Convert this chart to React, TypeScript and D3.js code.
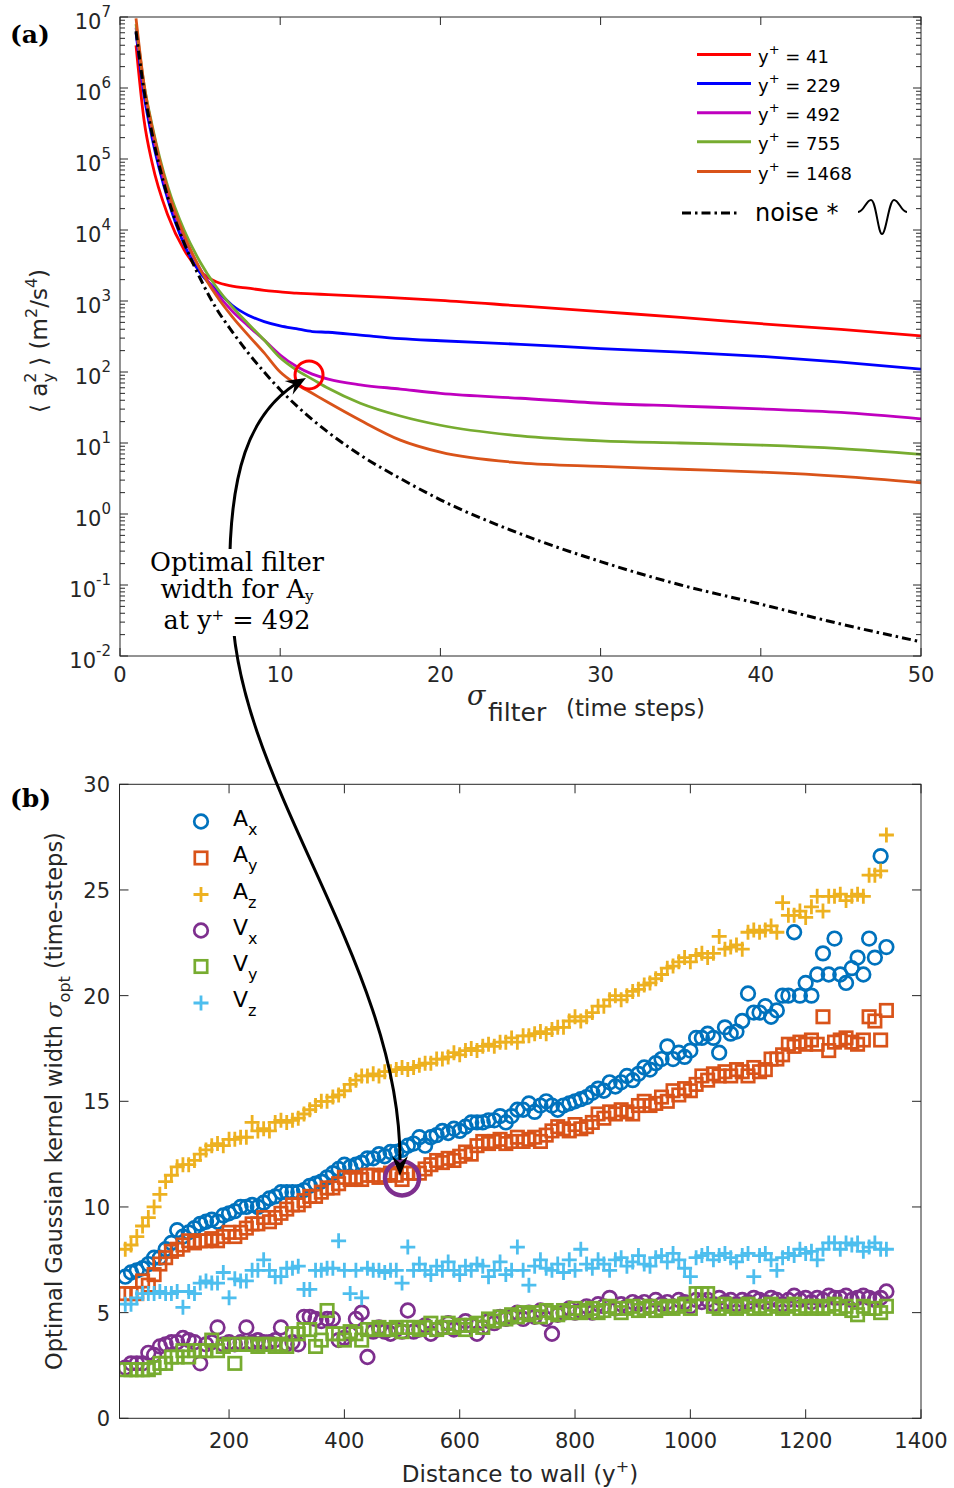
import React from "react";
import * as d3 from "d3";

// ---------------- Panel (a) data: log10(<a_y^2>) vs sigma_filter ----------------
const sigmaGrid = [1, 1.5, 2, 3, 4, 5, 6, 7, 8, 9, 10, 11, 12, 13, 15, 17.5, 20, 25, 30, 35, 40, 45, 50];
const logY41 = [6.6, 5.55, 4.95, 4.2, 3.72, 3.42, 3.27, 3.21, 3.18, 3.15, 3.13, 3.11, 3.1, 3.09, 3.07, 3.04, 3.01, 2.93, 2.85, 2.77, 2.68, 2.6, 2.51];
const logY229 = [6.78, 5.9, 5.3, 4.42, 3.8, 3.4, 3.16, 2.94, 2.8, 2.71, 2.65, 2.61, 2.57, 2.56, 2.52, 2.47, 2.44, 2.39, 2.33, 2.28, 2.22, 2.14, 2.04];
const logY492 = [6.85, 6.0, 5.4, 4.5, 3.9, 3.45, 3.12, 2.86, 2.65, 2.45, 2.24, 2.08, 1.97, 1.9, 1.82, 1.76, 1.7, 1.63, 1.56, 1.52, 1.48, 1.43, 1.34];
const logY755 = [6.9, 6.05, 5.48, 4.6, 4.0, 3.55, 3.2, 2.92, 2.68, 2.45, 2.2, 2.03, 1.9, 1.77, 1.56, 1.38, 1.25, 1.1, 1.03, 1.0, 0.97, 0.92, 0.84];
const logY1468 = [6.98, 6.05, 5.45, 4.55, 3.93, 3.45, 3.08, 2.78, 2.52, 2.27, 2.0, 1.83, 1.7, 1.57, 1.32, 1.04, 0.87, 0.72, 0.67, 0.63, 0.59, 0.53, 0.44];
const logNoise = [6.8, 5.97, 5.36, 4.45, 3.82, 3.32, 2.9, 2.57, 2.27, 2.0, 1.75, 1.53, 1.33, 1.15, 0.83, 0.5, 0.2, -0.28, -0.67, -1.0, -1.27, -1.55, -1.8];

const legendA = ["41", "229", "492", "755", "1468"];
const colorsA = ["#ff0000", "#0000ff", "#bf00bf", "#77ac30", "#d95319"];
const xTicksA = [0, 10, 20, 30, 40, 50];
const yExpA = [-2, -1, 0, 1, 2, 3, 4, 5, 6, 7];

// ---------------- Panel (b) data: optimal kernel width vs y+ ----------------
const yPlus = [
  20, 30, 40, 50, 60, 70, 80, 90, 100, 110,
  120, 130, 140, 150, 160, 170, 180, 190, 200, 210,
  220, 230, 240, 250, 260, 270, 280, 290, 300, 310,
  320, 330, 340, 350, 360, 370, 380, 390, 400, 410,
  420, 430, 440, 450, 460, 470, 480, 490, 500, 510,
  520, 530, 540, 550, 560, 570, 580, 590, 600, 610,
  620, 630, 640, 650, 660, 670, 680, 690, 700, 710,
  720, 730, 740, 750, 760, 770, 780, 790, 800, 810,
  820, 830, 840, 850, 860, 870, 880, 890, 900, 910,
  920, 930, 940, 950, 960, 970, 980, 990, 1000, 1010,
  1020, 1030, 1040, 1050, 1060, 1070, 1080, 1090, 1100, 1110,
  1120, 1130, 1140, 1150, 1160, 1170, 1180, 1190, 1200, 1210,
  1220, 1230, 1240, 1250, 1260, 1270, 1280, 1290, 1300, 1310,
  1320, 1330, 1340,
];
const Ax = [
  6.7, 6.9, 7.0, 7.1, 7.3, 7.6, 7.6, 8.0, 8.3, 8.9,
  8.6, 8.8, 9.0, 9.2, 9.3, 9.4, 9.3, 9.6, 9.7, 9.8,
  10.0, 10.0, 10.1, 10.0, 10.2, 10.4, 10.5, 10.7, 10.7, 10.7,
  10.7, 10.8, 11.0, 11.1, 11.2, 11.4, 11.6, 11.8, 12.0, 11.9,
  12.0, 12.1, 12.3, 12.3, 12.5, 12.4, 12.6, 12.6, 12.7, 12.9,
  13.0, 13.3, 12.9, 13.3, 13.4, 13.6, 13.5, 13.7, 13.6, 13.8,
  14.0, 14.0, 14.0, 14.1, 14.1, 14.3, 14.0, 14.3, 14.6, 14.6,
  14.9, 14.5, 14.8, 15.0, 14.8, 14.6, 14.8, 14.9, 15.0, 15.1,
  15.2, 15.4, 15.6, 15.5, 15.9, 15.7, 15.9, 16.2, 16.0, 16.3,
  16.6, 16.5, 16.8, 17.0, 17.6, 17.0, 17.3, 17.1, 17.4, 18.0,
  18.0, 18.2, 18.0, 17.3, 18.5, 18.2, 18.3, 18.8, 20.1, 19.2,
  19.2, 19.5, 19.0, 19.3, 20.0, 20.0, 23.0, 20.0, 20.6, 20.0,
  21.0, 22.0, 21.0, 22.7, 21.0, 20.6, 21.3, 21.8, 21.0, 22.7,
  21.8, 26.6, 22.3,
];
const Ay = [
  5.9, 5.9, 5.9, 6.5, 6.3, 6.8, 7.3, 7.6, 7.9, 8.0,
  8.2, 8.4, 8.3, 8.4, 8.4, 8.5, 8.4, 8.6, 8.8, 8.6,
  8.8, 9.0, 9.2, 9.2, 9.5, 9.3, 9.5, 9.7, 9.9, 10.1,
  10.1, 10.3, 10.5, 10.5, 10.7, 10.9, 10.9, 11.1, 11.4, 11.3,
  11.4, 11.3, 11.5, 11.5, 11.4, 11.5, 11.6, 11.5, 11.3, 11.6,
  11.6, 11.6, 11.8, 12.0, 12.2, 12.1, 12.3, 12.2, 12.4, 12.6,
  12.5, 12.9, 13.1, 13.0, 13.1, 13.2, 13.0, 13.1, 13.3, 13.1,
  13.2, 13.3, 13.1, 13.4, 13.6, 13.8, 13.7, 13.6, 13.9, 13.7,
  13.8, 14.0, 14.4, 14.2, 14.5, 14.4, 14.6, 14.5, 14.4, 14.8,
  15.0, 14.8, 14.9, 15.2, 15.0, 15.5, 15.3, 15.6, 15.5, 15.8,
  16.2, 16.0, 16.3, 16.2, 16.4, 16.2, 16.5, 16.4, 16.2, 16.6,
  16.4, 16.5, 17.0, 17.0, 17.2, 17.7, 17.6, 17.8, 17.7, 17.9,
  17.7, 19.0, 17.4, 17.8, 17.9, 18.0, 17.8, 17.7, 17.9, 19.0,
  18.8, 17.9, 19.3,
];
const Az = [
  8.0, 8.2, 8.6, 9.1, 9.5, 10.0, 10.6, 11.2, 11.5, 11.9,
  12.0, 12.0, 12.2, 12.5, 12.7, 12.9, 13.0, 12.9, 13.2, 13.2,
  13.3, 13.3, 14.0, 13.6, 13.7, 13.6, 14.0, 14.1, 14.0, 14.1,
  14.2, 14.4, 14.6, 14.8, 15.0, 15.0, 15.2, 15.3, 15.5, 15.8,
  16.0, 16.2, 16.2, 16.3, 16.2, 16.4, 16.4, 16.5, 16.6, 16.5,
  16.6, 16.7, 16.8, 16.8, 17.0, 17.0, 17.1, 17.3, 17.2, 17.4,
  17.5, 17.4, 17.6, 17.7, 17.6, 17.8, 17.8, 18.0, 17.8, 18.1,
  18.1, 18.2, 18.3, 18.2, 18.4, 18.5, 18.5, 18.8, 19.0, 18.8,
  19.0, 19.2, 19.5, 19.5, 19.8, 20.0, 19.8, 20.0, 20.2, 20.3,
  20.5, 20.6, 20.8, 21.0, 21.3, 21.4, 21.6, 21.8, 21.6, 21.9,
  22.0, 21.8, 22.0, 22.8, 22.2, 22.3, 22.4, 22.2, 23.0, 23.1,
  23.0, 23.1, 23.3, 23.0, 24.4, 23.8, 23.8, 24.0, 23.7, 24.2,
  24.7, 24.0, 24.7, 24.7, 24.8, 24.5, 24.7, 24.8, 24.7, 25.7,
  25.7, 25.9, 27.6,
];
const Vx = [
  2.4, 2.6, 2.6, 2.6, 3.1, 3.0, 3.4, 3.5, 3.6, 3.6,
  3.8, 3.7, 3.6, 2.6, 3.5, 3.6, 4.3, 3.5, 3.6, 3.5,
  3.6, 4.3, 3.6, 3.7, 3.6, 3.6, 3.7, 4.3, 3.5, 3.6,
  3.5, 4.8, 4.8, 4.7, 4.6, 4.7, 4.7, 3.7, 3.8, 4.0,
  4.7, 5.0, 2.9, 4.1, 4.3, 4.1, 4.0, 4.2, 4.1, 5.1,
  4.1, 4.2, 4.4, 4.0, 4.2, 4.3, 4.5, 4.2, 4.4, 4.6,
  4.4, 4.0, 4.3, 4.6, 4.5, 4.8, 4.7, 4.8, 5.0, 4.7,
  5.0, 4.8, 5.1, 4.7, 4.0, 4.9, 5.0, 5.2, 5.0, 5.1,
  5.3, 5.0, 5.4, 5.3, 5.7, 5.2, 5.4, 5.3, 5.5, 5.4,
  5.5, 5.3, 5.6, 5.4, 5.5, 5.3, 5.6, 5.5, 5.3, 5.6,
  5.5, 5.6, 5.4, 5.7, 5.5, 5.6, 5.4, 5.6, 5.5, 5.7,
  5.6, 5.5, 5.7, 5.6, 5.4, 5.6, 5.8, 5.6, 5.7, 5.5,
  5.7, 5.6, 5.8, 5.7, 5.7, 5.8, 5.6, 5.7, 5.8, 5.7,
  5.6, 5.7, 6.0,
];
const Vy = [
  2.3, 2.3, 2.3, 2.3, 2.3, 2.4, 2.6, 2.6, 2.9, 2.9,
  3.2, 2.9, 3.2, 3.2, 3.2, 3.7, 3.2, 3.4, 3.5, 2.6,
  3.5, 3.5, 3.5, 3.4, 3.5, 3.5, 3.4, 3.5, 3.4, 4.0,
  4.0, 4.2, 4.2, 3.4, 3.7, 5.1, 4.0, 4.0, 3.7, 4.1,
  4.0, 3.7, 4.2, 4.2, 4.3, 4.2, 4.2, 4.3, 4.1, 4.3,
  4.3, 4.2, 4.3, 4.5, 4.2, 4.3, 4.5, 4.3, 4.4, 4.2,
  4.4, 4.5, 4.3, 4.7, 4.6, 4.8, 4.7, 4.9, 4.8, 5.0,
  4.9, 5.0, 4.8, 5.1, 5.0, 4.9, 5.1, 5.0, 5.2, 5.0,
  5.1, 5.2, 5.0, 5.1, 5.3, 5.2, 5.0, 5.2, 5.3, 5.1,
  5.2, 5.3, 5.1, 5.2, 5.3, 5.2, 5.3, 5.4, 5.2, 5.9,
  5.9, 5.9, 5.3, 5.2, 5.4, 5.3, 5.2, 5.3, 5.4, 5.2,
  5.3, 5.2, 5.4, 5.3, 5.2, 5.3, 5.4, 5.2, 5.3, 5.2,
  5.3, 5.2, 5.3, 5.4, 5.2, 5.3, 5.1, 4.9, 5.3, 5.2,
  5.2, 5.0, 5.3,
];
const Vz = [
  5.4, 5.4, 5.7, 5.9, 5.9, 5.9, 6.0, 5.9, 5.9, 6.0,
  5.25, 6.0, 5.9, 6.4, 6.5, 6.4, 6.4, 6.9, 5.7, 6.6,
  6.5, 6.5, 7.0, 7.0, 7.5, 7.0, 6.7, 6.7, 7.1, 7.1,
  7.2, 6.1, 6.1, 7.0, 7.0, 7.1, 7.1, 8.4, 7.0, 5.9,
  7.0, 5.7, 7.1, 7.0, 7.0, 6.9, 7.0, 7.0, 6.4, 8.1,
  7.0, 7.3, 7.0, 6.8, 7.2, 7.0, 7.4, 7.0, 6.8, 7.2,
  7.0, 7.3, 7.2, 6.7, 7.0, 7.4, 6.8, 7.0, 8.1, 7.0,
  6.3, 7.2, 7.5, 7.1, 7.0, 7.3, 6.9, 7.5, 7.0, 8.0,
  7.3, 7.1, 7.5, 7.3, 7.0, 7.5, 7.6, 7.2, 7.4, 7.7,
  7.3, 7.2, 7.6, 7.7, 7.4, 7.8, 7.5, 7.1, 6.7, 7.6,
  7.7, 7.8, 7.5, 7.7, 7.8, 7.6, 7.4, 7.7, 7.8, 6.7,
  7.7, 7.8, 7.5, 7.0, 7.6, 7.8, 7.7, 8.0, 7.8, 7.9,
  7.5, 8.0, 8.3, 8.3, 8.0, 8.3, 8.2, 8.3, 7.9, 8.1,
  8.3, 8.0, 8.0,
];
const xTicksB = [200, 400, 600, 800, 1000, 1200, 1400];
const yTicksB = [0, 5, 10, 15, 20, 25, 30];

const seriesB = [
  { name: "A", sub: "x", values: Ax, color: "#0072bd", marker: "o" },
  { name: "A", sub: "y", values: Ay, color: "#d95319", marker: "s" },
  { name: "A", sub: "z", values: Az, color: "#edb120", marker: "+" },
  { name: "V", sub: "x", values: Vx, color: "#7e2f8e", marker: "o" },
  { name: "V", sub: "y", values: Vy, color: "#77ac30", marker: "s" },
  { name: "V", sub: "z", values: Vz, color: "#4dbeee", marker: "+" },
];

const AX = "#262626";
const SANS = "DejaVu Sans, sans-serif";
const SERIF = "DejaVu Serif, serif";

function Marker({ kind, x, y, color }: { kind: string; x: number; y: number; color: string }) {
  if (kind === "o") return <circle cx={x} cy={y} r={6.8} fill="none" stroke={color} strokeWidth={2.7} />;
  if (kind === "s") return <rect x={x - 6.2} y={y - 6.2} width={12.4} height={12.4} fill="none" stroke={color} strokeWidth={2.7} />;
  return <path d={`M${x - 7.5},${y}H${x + 7.5}M${x},${y - 7.5}V${y + 7.5}`} stroke={color} strokeWidth={2.8} fill="none" />;
}

function arrowHead(tx: number, ty: number, dx: number, dy: number) {
  const L = Math.hypot(dx, dy);
  const ux = dx / L, uy = dy / L;
  const px = -uy, py = ux;
  const len = 20, hw = 8, notch = 13;
  const bx = tx - ux * len, by = ty - uy * len;
  const nx = tx - ux * notch, ny = ty - uy * notch;
  return `M${tx},${ty}L${bx + px * hw},${by + py * hw}L${nx},${ny}L${bx - px * hw},${by - py * hw}Z`;
}

export default function App() {
  const W = 954, H = 1488;
  const xa = d3.scaleLinear().domain([0, 50]).range([120, 921]);
  const ya = d3.scaleLog().domain([1e-2, 1e7]).range([656, 17]);
  const xb = d3.scaleLinear().domain([10, 1400]).range([119.5, 921]);
  const yb = d3.scaleLinear().domain([0, 30]).range([1418.3, 784.3]);

  const lineA = d3
    .line<[number, number]>()
    .x((d) => xa(d[0]))
    .y((d) => ya(Math.pow(10, d[1])))
    .curve(d3.curveMonotoneX);

  const curvesA = [logY41, logY229, logY492, logY755, logY1468];
  const toPts = (arr: number[]) => sigmaGrid.map((s, i) => [s, arr[i]] as [number, number]);

  const aL = 120, aR = 921, aT = 17, aB = 656;
  const bL = 119.5, bR = 921, bT = 784.3, bB = 1418.3;

  const minorA: number[] = [];
  for (let e = -2; e < 7; e++) for (let m = 2; m <= 9; m++) minorA.push(m * Math.pow(10, e));

  const legendRowsA = [54.5, 83.5, 112.7, 141.7, 171.5];
  const legendRowsB = [821.5, 858, 894.5, 930.5, 966.5, 1003];

  const upper = "M230,600 C226,470 250,410 302,380";
  const lower = "M232,600 C232,780 400,960 400,1160";

  return (
    <div style={{ position: "absolute", left: 0, top: 0 }}>
      <svg width={W} height={H} viewBox={`0 0 ${W} ${H}`} style={{ display: "block", background: "#fff" }}>
        <rect x={0} y={0} width={W} height={H} fill="#fff" />
        <defs>
          <clipPath id="clipA">
            <rect x={aL} y={aT} width={aR - aL} height={aB - aT} />
          </clipPath>
          <clipPath id="clipB">
            <rect x={bL} y={bT} width={bR - bL} height={bB - bT} />
          </clipPath>
        </defs>

        {/* ================= PANEL (a) ================= */}
        <g clipPath="url(#clipA)">
          {curvesA.map((c, i) => (
            <path key={i} d={lineA(toPts(c)) || ""} fill="none" stroke={colorsA[i]} strokeWidth={2.8} strokeLinejoin="round" />
          ))}
          <path d={lineA(toPts(logNoise)) || ""} fill="none" stroke="#000" strokeWidth={3} strokeDasharray="9,4,2.5,4" />
        </g>
        <rect x={aL} y={aT} width={aR - aL} height={aB - aT} fill="none" stroke={AX} strokeWidth={1} />
        {xTicksA.map((t) => (
          <g key={"xa" + t}>
            <line x1={xa(t)} x2={xa(t)} y1={aB} y2={aB - 8} stroke={AX} />
            <line x1={xa(t)} x2={xa(t)} y1={aT} y2={aT + 8} stroke={AX} />
            <text x={xa(t)} y={682} textAnchor="middle" fontFamily={SANS} fontSize={21} fill={AX}>
              {t}
            </text>
          </g>
        ))}
        {yExpA.map((e) => {
          const y = ya(Math.pow(10, e));
          return (
            <g key={"ya" + e}>
              <line x1={aL} x2={aL + 8} y1={y} y2={y} stroke={AX} />
              <line x1={aR} x2={aR - 8} y1={y} y2={y} stroke={AX} />
              <text x={111} y={y + 12} textAnchor="end" fontFamily={SANS} fontSize={21} fill={AX}>
                <tspan>10</tspan>
                <tspan fontSize={15} dy={-12}>
                  {e}
                </tspan>
              </text>
            </g>
          );
        })}
        {minorA.map((v, i) => {
          const y = ya(v);
          return (
            <g key={"ma" + i}>
              <line x1={aL} x2={aL + 5} y1={y} y2={y} stroke={AX} />
              <line x1={aR} x2={aR - 5} y1={y} y2={y} stroke={AX} />
            </g>
          );
        })}
        <text transform="translate(47,341) rotate(-90)" textAnchor="middle" fontFamily={SANS} fontSize={23} fill={AX}>
          <tspan>⟨ a</tspan>
          <tspan fontSize={16} dy={-11}>2</tspan>
          <tspan fontSize={16} dx={-10} dy={18}>y</tspan>
          <tspan dy={-7}> ⟩ (m</tspan>
          <tspan fontSize={16} dy={-10}>2</tspan>
          <tspan dy={10}>/s</tspan>
          <tspan fontSize={16} dy={-10}>4</tspan>
          <tspan dy={10}>)</tspan>
        </text>
        <text x={467} y={705} fontFamily={SERIF} fontStyle="italic" fontSize={27} fill={AX}>σ</text>
        <text x={488} y={721} fontFamily={SANS} fontSize={25} fill={AX}>filter</text>
        <text x={566} y={716} fontFamily={SANS} fontSize={23} fill={AX}>(time steps)</text>
        {legendA.map((l, i) => (
          <g key={"la" + i}>
            <line x1={697} x2={751} y1={legendRowsA[i]} y2={legendRowsA[i]} stroke={colorsA[i]} strokeWidth={3} />
            <text x={758} y={legendRowsA[i] + 8} fontFamily={SANS} fontSize={18} fill="#000">
              <tspan>y</tspan>
              <tspan fontSize={13} dy={-9}>+</tspan>
              <tspan dy={9}>{" = " + l}</tspan>
            </text>
          </g>
        ))}
        <line x1={682} x2={737} y1={213} y2={213} stroke="#000" strokeWidth={3} strokeDasharray="9,4,2.5,4" />
        <text x={755} y={221} fontFamily={SANS} fontSize={24} fill="#000">noise *</text>
        <path
          d="M858,212 C864,212 866,200 871,200 C876,200 878,234 882,234 C886,234 889,200 894,200 C899,200 901,212 907,212"
          fill="none"
          stroke="#000"
          strokeWidth={2}
        />
        <circle cx={xa(11.8)} cy={ya(91)} r={14} fill="none" stroke="#ff0000" strokeWidth={3} />
        <text x={10} y={43} fontFamily={SERIF} fontWeight="bold" fontSize={25} fill="#000">(a)</text>

        {/* ================= PANEL (b) ================= */}
        <g clipPath="url(#clipB)">
          {seriesB.map((s, si) => (
            <g key={"sb" + si}>
              {yPlus.map((yp, i) => (
                <Marker key={i} kind={s.marker} x={xb(yp)} y={yb(s.values[i])} color={s.color} />
              ))}
            </g>
          ))}
        </g>
        <rect x={bL} y={bT} width={bR - bL} height={bB - bT} fill="none" stroke={AX} strokeWidth={1} />
        {xTicksB.map((t) => (
          <g key={"xb" + t}>
            <line x1={xb(t)} x2={xb(t)} y1={bB} y2={bB - 9} stroke={AX} />
            <line x1={xb(t)} x2={xb(t)} y1={bT} y2={bT + 9} stroke={AX} />
            <text x={xb(t)} y={1448} textAnchor="middle" fontFamily={SANS} fontSize={21} fill={AX}>
              {t}
            </text>
          </g>
        ))}
        {yTicksB.map((t) => (
          <g key={"yb" + t}>
            <line x1={bL} x2={bL + 9} y1={yb(t)} y2={yb(t)} stroke={AX} />
            <line x1={bR} x2={bR - 9} y1={yb(t)} y2={yb(t)} stroke={AX} />
            <text x={110} y={yb(t) + 8} textAnchor="end" fontFamily={SANS} fontSize={21} fill={AX}>
              {t}
            </text>
          </g>
        ))}
        <text transform="translate(62,1101) rotate(-90)" textAnchor="middle" fontFamily={SANS} fontSize={22.5} fill={AX}>
          <tspan>Optimal Gaussian kernel width </tspan>
          <tspan fontFamily={SERIF} fontStyle="italic">σ</tspan>
          <tspan fontSize={16} dy={8}>opt</tspan>
          <tspan dy={-8}>{"  (time-steps)"}</tspan>
        </text>
        <text x={520} y={1482} textAnchor="middle" fontFamily={SANS} fontSize={23} fill={AX}>
          <tspan>Distance to wall (y</tspan>
          <tspan fontSize={16} dy={-10}>+</tspan>
          <tspan dy={10}>)</tspan>
        </text>
        {seriesB.map((s, i) => (
          <g key={"lb" + i}>
            <Marker kind={s.marker} x={201} y={legendRowsB[i]} color={s.color} />
            <text x={233} y={legendRowsB[i] + 4} fontFamily={SANS} fontSize={22} fill="#000">
              <tspan>{s.name}</tspan>
              <tspan fontSize={16} dy={9}>{s.sub}</tspan>
            </text>
          </g>
        ))}
        <circle cx={xb(500)} cy={yb(11.35)} r={17} fill="none" stroke="#7e2f8e" strokeWidth={4.5} />
        <text x={10} y={807} fontFamily={SERIF} fontWeight="bold" fontSize={25} fill="#000">(b)</text>

        {/* ================= annotation arrow ================= */}
        <path d={upper} fill="none" stroke="#000" strokeWidth={3} />
        <path d={lower} fill="none" stroke="#000" strokeWidth={3} />
        <path d={arrowHead(306, 378, 56, -32)} fill="#000" />
        <path d={arrowHead(400, 1176, 0, 1)} fill="#000" />
        <rect x={140} y={549} width={198} height={87} fill="#fff" />
        <text textAnchor="middle" fontFamily={SERIF} fontSize={25.5} fill="#000">
          <tspan x={237} y={571}>Optimal filter</tspan>
          <tspan x={237} y={598}>width for A</tspan>
          <tspan fontSize={15} dy={3}>y</tspan>
        </text>
        <text textAnchor="middle" fontFamily={SERIF} fontSize={25.5} fill="#000">
          <tspan x={237} y={629}>at y</tspan>
          <tspan fontSize={15} dy={-9}>+</tspan>
          <tspan dy={9}> = 492</tspan>
        </text>
      </svg>
    </div>
  );
}
